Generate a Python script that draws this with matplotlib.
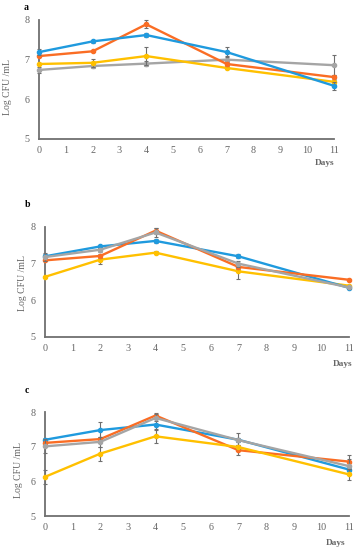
import matplotlib
matplotlib.use("Agg")
import matplotlib.pyplot as plt

days = [0, 2, 4, 7, 11]
x_ticks = list(range(0, 12))
y_ticks = [5, 6, 7, 8]

# Panel a
a_blue = [7.19, 7.46, 7.62, 7.19, 6.34]
a_orange = [7.09, 7.21, 7.89, 6.89, 6.56]
a_yellow = [6.89, 6.92, 7.09, 6.79, 6.44]
a_gray = [6.74, 6.84, 6.90, 7.00, 6.86]
a_blue_err = [0.08, 0.03, 0.05, 0.12, 0.10]
a_orange_err = [0.03, 0.03, 0.10, 0.05, 0.05]
a_yellow_err = [0.03, 0.10, 0.22, 0.03, 0.05]
a_gray_err = [0.08, 0.05, 0.07, 0.10, 0.25]

# Panel b
b_blue = [7.20, 7.47, 7.62, 7.20, 6.34]
b_orange = [7.09, 7.21, 7.90, 6.91, 6.56]
b_gray = [7.18, 7.38, 7.85, 7.00, 6.35]
b_yellow = [6.64, 7.11, 7.30, 6.79, 6.40]
b_blue_err = [0.05, 0.03, 0.05, 0.05, 0.03]
b_orange_err = [0.03, 0.05, 0.08, 0.05, 0.03]
b_gray_err = [0.12, 0.05, 0.12, 0.08, 0.03]
b_yellow_err = [0.03, 0.13, 0.05, 0.22, 0.03]

# Panel c
c_blue = [7.20, 7.48, 7.64, 7.20, 6.34]
c_orange = [7.11, 7.22, 7.90, 6.90, 6.57]
c_gray = [7.01, 7.14, 7.83, 7.19, 6.44]
c_yellow = [6.13, 6.80, 7.30, 6.99, 6.20]
c_blue_err = [0.05, 0.22, 0.15, 0.05, 0.05]
c_orange_err = [0.05, 0.05, 0.08, 0.15, 0.20]
c_gray_err = [0.20, 0.15, 0.10, 0.22, 0.20]
c_yellow_err = [0.20, 0.20, 0.20, 0.05, 0.15]

BLUE = "#1f9ade"
ORANGE = "#fa6d24"
YELLOW = "#ffc000"
GRAY = "#a5a5a5"
TXT = "#666666"

plt.rcParams['font.family'] = ['Liberation Serif', 'DejaVu Serif']

fig = plt.figure(figsize=(3.62, 5.5), dpi=100)

panels = [
    ("a", [0.1077, 0.7473, 0.815, 0.2164],
     [(a_gray, a_gray_err, GRAY), (a_yellow, a_yellow_err, YELLOW),
      (a_orange, a_orange_err, ORANGE), (a_blue, a_blue_err, BLUE)],
     (0.072, 0.995), (0.898, 0.704), (0.022, 0.842)),
    ("b", [0.1243, 0.3873, 0.8398, 0.2],
     [(b_yellow, b_yellow_err, YELLOW), (b_blue, b_blue_err, BLUE),
      (b_orange, b_orange_err, ORANGE), (b_gray, b_gray_err, GRAY)],
     (0.075, 0.636), (0.947, 0.338), (0.061, 0.486)),
    ("c", [0.1243, 0.0618, 0.8398, 0.189],
     [(c_blue, c_blue_err, BLUE), (c_orange, c_orange_err, ORANGE),
      (c_gray, c_gray_err, GRAY), (c_yellow, c_yellow_err, YELLOW)],
     (0.075, 0.299), (0.928, 0.013), (0.050, 0.145)),
]

for label, rect, series, lab_pos, days_pos, ylab_pos in panels:
    ax = fig.add_axes(rect)
    for i, (vals, errs, col) in enumerate(series):
        ax.errorbar(days, vals, yerr=errs, fmt='none', ecolor="#6f6f6f",
                    elinewidth=0.8, capsize=1.5, capthick=0.8, zorder=2 + i,
                    clip_on=False)
        ax.plot(days, vals, color=col, lw=1.7, marker='o', ms=3,
                zorder=3 + i, clip_on=False)
    ax.set_xlim(0, 11)
    ax.set_ylim(5, 8)
    ax.set_xticks(x_ticks)
    ax.set_yticks(y_ticks)
    ax.tick_params(length=0, labelsize=7.3, colors=TXT)
    ax.tick_params(axis='x', pad=5)
    ax.tick_params(axis='y', pad=7)
    for s in ['top', 'right']:
        ax.spines[s].set_visible(False)
    for s in ['left', 'bottom']:
        ax.spines[s].set_color("#707070")
        ax.spines[s].set_linewidth(1.3)
    fig.text(lab_pos[0], lab_pos[1], label, fontsize=7, fontweight='bold',
             ha='center', va='top', color='black')
    fig.text(days_pos[0], days_pos[1], "Days", fontsize=6.7, fontweight='bold',
             ha='center', va='center', color=TXT)
    fig.text(ylab_pos[0], ylab_pos[1], "Log CFU /mL", fontsize=7,
             rotation=90, ha='center', va='center', color=TXT)

fig.savefig("out.png", dpi=100)
